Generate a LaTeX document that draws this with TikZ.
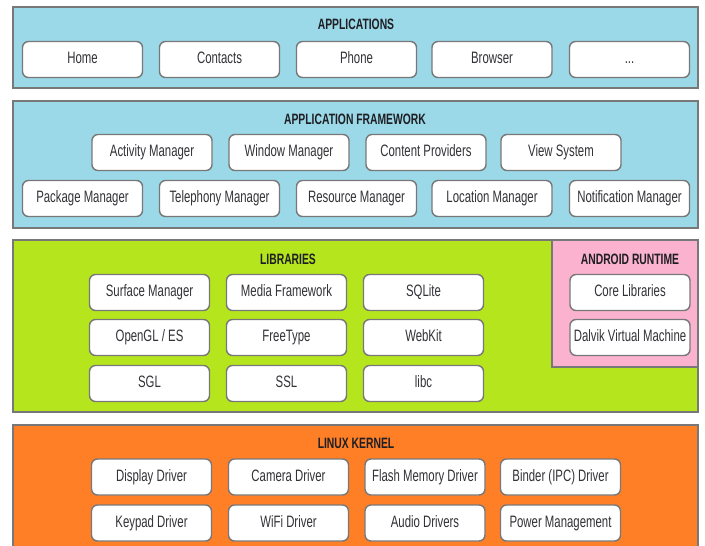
\documentclass[tikz,border=0pt]{standalone}
\usepackage{fontspec}
\setmainfont[FakeStretch=0.69]{Liberation Sans}
\definecolor{appblue}{RGB}{155,217,232}
\definecolor{libgreen}{RGB}{181,230,29}
\definecolor{rtpink}{RGB}{250,178,206}
\definecolor{kernorange}{RGB}{255,127,39}
\definecolor{edgegray}{RGB}{120,120,120}
\definecolor{txtgray}{RGB}{50,50,55}
\definecolor{titlecol}{RGB}{30,30,35}
\begin{document}
\begin{tikzpicture}[x=1pt,y=-1pt,
  panel/.style={draw=edgegray,line width=1.3pt},
  box/.style={draw=edgegray,fill=white,line width=1.4pt,rounded corners=6pt,
    minimum width=120pt,minimum height=36pt,inner sep=0pt,
    text height=12pt,text depth=3.5pt,
    font=\fontsize{16.5}{18}\selectfont,text=txtgray},
  title/.style={font=\bfseries\fontsize{15}{17}\selectfont,text=titlecol,inner sep=0pt}]
\useasboundingbox (0,0) rectangle (705,546);
\fill[white] (0,0) rectangle (705,546);
% panels
\draw[panel,fill=appblue] (13,7) rectangle (698,88);
\draw[panel,fill=appblue] (13,101) rectangle (698,228);
\draw[panel,fill=libgreen] (13,240) rectangle (698,412);
\draw[panel,fill=rtpink] (552,240) rectangle (698,367);
\begin{scope}
\clip (0,0) rectangle (705,546);
\draw[panel,fill=kernorange] (13,425) rectangle (698,560);
\end{scope}
% titles
\node[title] (tapp) at (356,24) {APPLICATIONS};
\node[title] (tfw) at (355,119) {APPLICATION FRAMEWORK};
\node[title] (tlib) at (288,259) {LIBRARIES};
\node[title] (trt) at (630,259) {ANDROID RUNTIME};
\node[title] (tker) at (356,443) {LINUX KERNEL};
% applications
\node[box] (home) at (82.5,59.5) {Home};
\node[box] (contacts) at (219.5,59.5) {Contacts};
\node[box] (phone) at (356.5,59.5) {Phone};
\node[box] (browser) at (492,59.5) {Browser};
\node[box] (dots) at (629.5,59.5) {...};
% framework
\node[box] (activity) at (152,152.5) {Activity Manager};
\node[box] (window) at (289,152.5) {Window Manager};
\node[box] (content) at (426,152.5) {Content Providers};
\node[box] (view) at (561,152.5) {View System};
\node[box] (package) at (82.5,198.5) {Package Manager};
\node[box] (telephony) at (219.5,198.5) {Telephony Manager};
\node[box] (resource) at (356.5,198.5) {Resource Manager};
\node[box] (location) at (492,198.5) {Location Manager};
\node[box] (notification) at (629.5,198.5) {Notification Manager};
% libraries
\node[box] (surface) at (149.5,292.5) {Surface Manager};
\node[box] (media) at (286.5,292.5) {Media Framework};
\node[box] (sqlite) at (423.5,292.5) {SQLite};
\node[box] (opengl) at (149.5,337.5) {OpenGL / ES};
\node[box] (freetype) at (286.5,337.5) {FreeType};
\node[box] (webkit) at (423.5,337.5) {WebKit};
\node[box] (sgl) at (149.5,383.5) {SGL};
\node[box] (ssl) at (286.5,383.5) {SSL};
\node[box] (libc) at (423.5,383.5) {libc};
% runtime
\node[box] (core) at (630,292.5) {Core Libraries};
\node[box] (dalvik) at (630,337.5) {Dalvik Virtual Machine};
% kernel
\node[box] (display) at (151.5,477) {Display Driver};
\node[box] (camera) at (288.5,477) {Camera Driver};
\node[box] (flash) at (425,477) {Flash Memory Driver};
\node[box] (binder) at (560.5,477) {Binder (IPC) Driver};
\node[box] (keypad) at (151.5,523) {Keypad Driver};
\node[box] (wifi) at (288.5,523) {WiFi Driver};
\node[box] (audio) at (425,523) {Audio Drivers};
\node[box] (power) at (560.5,523) {Power Management};
\end{tikzpicture}
\end{document}
